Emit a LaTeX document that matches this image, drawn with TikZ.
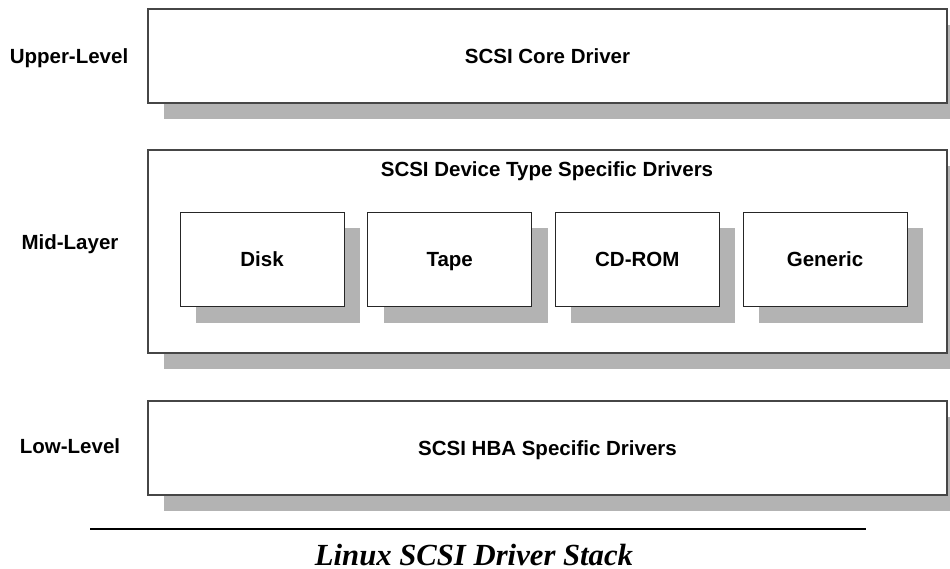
\documentclass[tikz,border=0pt]{standalone}
\usepackage{fontspec}
\setmainfont{Liberation Sans}
\newfontfamily\captionserif{Liberation Serif}
\usetikzlibrary{shadows}
\definecolor{shadowgray}{RGB}{179,179,179}
\definecolor{edgegray}{RGB}{70,70,70}

\begin{document}
\begin{tikzpicture}[x=1pt,y=-1pt,
  layerbox/.style={rectangle, draw=edgegray, line width=1.2pt, fill=white,
    inner sep=0pt, outer sep=0pt, anchor=north west,
    general shadow={fill=shadowgray, shadow xshift=16pt, shadow yshift=-16pt}},
  typebox/.style={layerbox, draw=black!85, line width=1pt,
    minimum width=164pt, minimum height=94pt},
  % fixed height and no depth, so every label is centred on its capitals
  boxtext/.style={font=\bfseries\fontsize{20.5}{24}\selectfont, inner sep=0pt,
    text height=14.7pt, text depth=0pt},
  leveltext/.style={boxtext, anchor=center}
]
\useasboundingbox (0,0) rectangle (950,569);
\clip (0,0) rectangle (950,569);

% three layers of the stack
\node[layerbox, minimum width=799pt, minimum height=94pt]  (upper) at (148,9)   {};
\node[layerbox, minimum width=799pt, minimum height=203pt] (mid)   at (148,150) {};
\node[layerbox, minimum width=799pt, minimum height=94pt]  (low)   at (148,401) {};

% device type drivers inside the mid layer
\node[typebox] (disk)    at (180,212.5)   {};
\node[typebox] (tape)    at (367.7,212.5) {};
\node[typebox] (cdrom)   at (555.3,212.5) {};
\node[typebox] (generic) at (743,212.5)   {};

% box texts
\node[boxtext] (tupper) at (upper.center) {SCSI Core Driver};
\node[boxtext] (tmid)   at (547,169.5)    {SCSI Device Type Specific Drivers};
\node[boxtext] (tlow)   at (low.center)   {SCSI HBA Specific Drivers};
\node[boxtext] at (disk.center)    {Disk};
\node[boxtext] at (tape.center)    {Tape};
\node[boxtext] at (cdrom.center)   {CD-ROM};
\node[boxtext] at (generic.center) {Generic};

% level names on the left
\node[leveltext] (lupper) at (69,56.3)  {Upper-Level};
\node[leveltext] (lmid)   at (70,242.5) {Mid-Layer};
\node[leveltext] (llow)   at (70,446.5) {Low-Level};

% rule and caption
\coordinate (ruleL) at (90,528.7);
\coordinate (ruleR) at (866,528.7);
\draw[line width=2pt] (ruleL) -- (ruleR);
\node[anchor=base, inner sep=0pt,
  font=\captionserif\bfseries\itshape\fontsize{30.7}{36}\selectfont]
  (caption) at (474,565.5) {Linux SCSI Driver Stack};
\end{tikzpicture}
\end{document}
